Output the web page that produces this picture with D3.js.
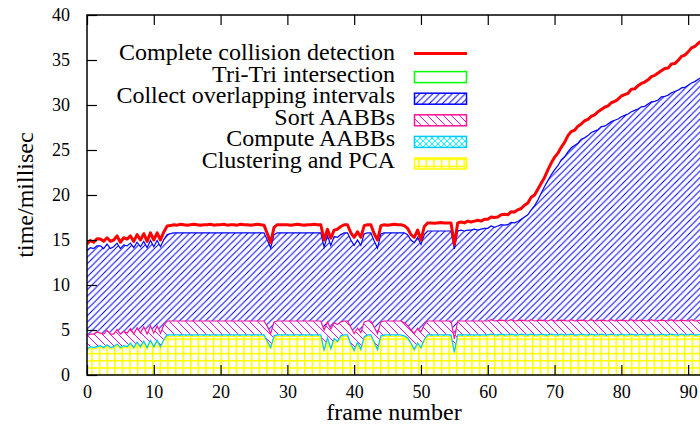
<!DOCTYPE html>
<html>
<head>
<meta charset="utf-8">
<script src="https://cdn.jsdelivr.net/npm/d3@7"></script>
<style>
body{margin:0;background:#fff}
svg{display:block;font-family:"Liberation Serif","Times New Roman",serif}
</style>
</head>
<body>
<svg id="chart" width="700" height="430"></svg>
<script>
// frame numbers, sampled every half frame
const frames = d3.range(0, 92.5, 0.5);

// time per stage (ms)
const clustering = [
  2.7,3.0,2.9,3.0,3.1,2.9,3.2,2.9,3.0,3.3, 2.9,3.1,3.0,3.4,2.9,3.5,3.0,3.6,2.9,3.7,
  3.0,3.7,3.0,3.8,4.3,4.3,4.3,4.3,4.3,4.3, 4.3,4.3,4.3,4.3,4.3,4.3,4.3,4.3,4.3,4.3,
  4.3,4.3,4.3,4.3,4.3,4.3,4.3,4.3,4.3,4.3, 4.3,4.3,4.3,4.3,3.6,2.9,4.2,4.3,4.3,4.3,
  4.3,4.3,4.3,4.3,4.3,4.3,4.3,4.3,4.3,4.3, 4.3,2.6,4.0,2.8,3.9,3.6,4.2,4.3,4.3,3.3,
  2.6,3.5,2.7,4.1,4.3,4.3,3.5,2.7,4.2,4.3, 4.3,4.3,4.3,4.3,4.3,4.2,4.0,3.4,2.7,3.4,
  2.9,3.8,4.3,4.3,4.3,4.3,4.3,4.3,4.3,4.3, 2.4,4.3,4.3,4.3,4.3,4.3,4.3,4.3,4.3,4.3,
  4.3,4.4,4.3,4.3,4.4,4.3,4.3,4.4,4.3,4.3, 4.4,4.3,4.3,4.4,4.3,4.3,4.4,4.3,4.3,4.4,
  4.3,4.3,4.4,4.3,4.3,4.4,4.3,4.3,4.4,4.3, 4.3,4.4,4.3,4.3,4.4,4.3,4.3,4.4,4.3,4.3,
  4.4,4.3,4.3,4.4,4.3,4.3,4.4,4.3,4.3,4.4, 4.3,4.3,4.4,4.3,4.3,4.4,4.3,4.3,4.4,4.3,
  4.3,4.4,4.3,4.3,4.4
];
const computeAabbs = [
  0.15,0.15,0.15,0.15,0.15,0.15,0.15,0.15,0.15,0.15, 0.15,0.15,0.15,0.15,0.15,0.15,0.15,0.15,0.15,0.15,
  0.15,0.15,0.15,0.15,0.15,0.15,0.15,0.15,0.15,0.15, 0.15,0.15,0.15,0.15,0.15,0.15,0.15,0.15,0.15,0.15,
  0.15,0.15,0.15,0.15,0.15,0.15,0.15,0.15,0.15,0.15, 0.15,0.15,0.15,0.15,0.15,0.15,0.15,0.15,0.15,0.15,
  0.15,0.15,0.15,0.15,0.15,0.15,0.15,0.15,0.15,0.15, 0.15,0.15,0.15,0.15,0.15,0.15,0.15,0.15,0.15,0.15,
  0.15,0.15,0.15,0.15,0.15,0.15,0.15,0.15,0.15,0.15, 0.15,0.15,0.15,0.15,0.15,0.15,0.15,0.15,0.15,0.15,
  0.15,0.15,0.15,0.15,0.15,0.15,0.15,0.15,0.15,0.15, 0.15,0.15,0.15,0.15,0.15,0.15,0.15,0.15,0.15,0.15,
  0.15,0.15,0.15,0.15,0.15,0.15,0.15,0.15,0.15,0.15, 0.15,0.15,0.15,0.15,0.15,0.15,0.15,0.15,0.15,0.15,
  0.15,0.15,0.15,0.15,0.15,0.15,0.15,0.15,0.15,0.15, 0.15,0.15,0.15,0.15,0.15,0.15,0.15,0.15,0.15,0.15,
  0.15,0.15,0.15,0.15,0.15,0.15,0.15,0.15,0.15,0.15, 0.15,0.15,0.15,0.15,0.15,0.15,0.15,0.15,0.15,0.15,
  0.15,0.15,0.15,0.15,0.15
];
const sortAabbs = [
  1.5,1.4,1.5,1.6,1.4,1.5,1.6,1.5,1.4,1.6, 1.5,1.6,1.5,1.6,1.5,1.6,1.5,1.6,1.5,1.6,
  1.5,1.6,1.5,1.6,1.55,1.55,1.55,1.55,1.55,1.55, 1.55,1.55,1.55,1.55,1.55,1.55,1.55,1.55,1.55,1.55,
  1.55,1.55,1.55,1.55,1.55,1.55,1.55,1.55,1.55,1.55, 1.55,1.55,1.55,1.55,1.65,1.55,1.55,1.55,1.55,1.55,
  1.55,1.55,1.55,1.55,1.55,1.55,1.55,1.55,1.55,1.55, 1.55,2.25,1.75,2.15,1.75,1.85,1.55,1.55,1.55,1.85,
  1.85,1.55,1.85,1.65,1.55,1.55,1.65,1.75,1.55,1.55, 1.55,1.55,1.55,1.55,1.55,1.45,1.35,1.45,1.75,1.65,
  1.75,1.65,1.55,1.55,1.55,1.55,1.55,1.55,1.55,1.55, 1.45,1.55,1.55,1.55,1.55,1.55,1.55,1.55,1.55,1.55,
  1.55,1.6,1.55,1.6,1.55,1.6,1.55,1.6,1.55,1.6, 1.55,1.6,1.55,1.6,1.55,1.6,1.55,1.6,1.55,1.6,
  1.55,1.6,1.55,1.6,1.55,1.6,1.55,1.6,1.55,1.6, 1.55,1.6,1.55,1.6,1.55,1.6,1.55,1.6,1.55,1.6,
  1.55,1.6,1.55,1.6,1.55,1.6,1.55,1.6,1.55,1.6, 1.55,1.6,1.55,1.6,1.55,1.6,1.55,1.6,1.55,1.6,
  1.55,1.6,1.55,1.6,1.55
];
const collectIntervals = [
  9.5,9.6,9.5,9.6,9.7,9.5,9.6,9.5,9.7,9.6, 9.5,9.6,9.7,9.5,9.6,9.5,9.6,9.5,9.6,9.5,
  9.6,9.5,9.6,9.5,9.6,9.7,9.8,9.8,9.8,9.8, 9.8,9.8,9.8,9.8,9.8,9.8,9.8,9.8,9.8,9.8,
  9.8,9.8,9.8,9.8,9.8,9.8,9.8,9.8,9.8,9.8, 9.8,9.8,9.8,9.8,9.6,9.5,9.7,9.8,9.8,9.8,
  9.8,9.8,9.8,9.8,9.8,9.8,9.8,9.8,9.8,9.8, 9.8,9.2,9.6,9.3,9.6,9.7,9.7,9.8,9.8,9.7,
  9.8,9.8,9.7,9.8,9.8,9.8,9.6,9.5,9.8,9.8, 9.8,9.8,9.8,9.8,9.8,10.0,10.1,10.0,10.1,10.1,
  9.7,10.0,10.0,10.0,10.0,10.0,10.0,10.0,10.0,10.0, 10.0,10.0,10.1,10.0,10.1,10.1,10.2,10.1,10.2,10.3,
  10.3,10.4,10.4,10.5,10.6,10.6,10.7,10.8,10.9,11.0, 11.2,11.5,11.8,12.2,12.8,13.4,14.1,14.9,15.6,16.1,
  16.8,17.2,17.8,18.2,18.8,19.1,19.5,19.7,20.1,20.3, 20.6,20.8,21.1,21.2,21.5,21.6,21.9,22.0,22.3,22.4,
  22.6,22.8,23.0,23.1,23.4,23.5,23.7,23.8,24.1,24.2, 24.4,24.5,24.8,24.9,25.1,25.2,25.5,25.6,25.8,25.9,
  26.2,26.3,26.6,26.8,27.0
];
const triTri = [
  0.7,0.8,0.7,0.8,0.75,0.8,0.7,0.8,0.75,0.8, 0.7,0.8,0.75,0.8,0.7,0.85,0.75,0.85,0.7,0.85,
  0.75,0.85,0.75,0.85,0.95,0.9,0.9,0.85,0.95,0.9, 0.85,0.9,0.95,0.9,0.85,0.9,0.9,0.95,0.85,0.9,
  0.9,0.95,0.85,0.9,0.9,0.85,0.95,0.9,0.9,0.85, 0.9,0.95,0.9,0.85,0.7,0.6,0.8,0.9,0.9,0.9,
  0.9,0.85,0.9,0.95,0.9,0.85,0.9,0.9,0.95,0.9, 0.9,0.8,0.7,0.8,0.7,0.9,0.9,0.9,0.9,0.8,
  0.9,0.9,0.9,0.9,0.9,0.9,0.8,0.9,0.9,0.9, 0.85,0.9,0.95,0.9,0.9,0.8,0.7,0.6,0.6,0.8,
  0.5,0.9,0.9,0.9,0.85,0.9,0.95,0.9,0.9,0.9, 0.5,0.9,0.9,0.9,1.0,0.9,0.9,1.1,0.9,1.0,
  1.0,1.0,1.1,1.0,1.1,1.2,1.1,1.2,1.2,1.3, 1.2,1.3,1.3,1.4,1.2,1.2,1.1,1.0,1.2,1.3,
  1.4,1.4,1.4,1.6,1.8,1.8,1.7,1.9,1.7,1.9, 1.8,1.8,1.8,2.0,1.9,2.1,2.0,2.1,2.1,2.2,
  2.3,2.3,2.3,2.5,2.4,2.6,2.6,2.7,2.7,2.8, 2.9,3.0,2.9,3.1,3.0,3.2,3.1,3.3,3.5,3.6,
  3.7,3.9,3.9,4.0,4.0
];

const xTicks = [0, 10, 20, 30, 40, 50, 60, 70, 80, 90];
const yTicks = [0, 5, 10, 15, 20, 25, 30, 35, 40];
const legendLabels = ["Complete collision detection", "Tri-Tri intersection",
  "Collect overlapping intervals", "Sort AABBs", "Compute AABBs", "Clustering and PCA"];

const keys = ["clustering", "computeAabbs", "sortAabbs", "collectIntervals", "triTri"];
const borders = {clustering:"#ffff00", computeAabbs:"#00c8ff", sortAabbs:"#ff1493", collectIntervals:"#0000ff", triTri:"#00ff00"};

const table = frames.map((f, i) => ({
  frame: f,
  clustering: clustering[i],
  computeAabbs: computeAabbs[i],
  sortAabbs: sortAabbs[i],
  collectIntervals: collectIntervals[i],
  triTri: triTri[i]
}));

const svg = d3.select("#chart");
const plotL = 87, plotR = 701.5, plotT = 15, plotB = 375;
const x = d3.scaleLinear().domain([0, 92]).range([plotL, plotR]);
const y = d3.scaleLinear().domain([0, 40]).range([plotB, plotT]);

svg.append("rect").attr("width", 700).attr("height", 430).attr("fill", "#fff");

// fill patterns
const defs = svg.append("defs");
function pat(id, w, h, color, d, sw) {
  const p = defs.append("pattern").attr("id", id).attr("patternUnits", "userSpaceOnUse")
    .attr("width", w).attr("height", h);
  p.append("path").attr("d", d).attr("stroke", color).attr("stroke-width", sw).attr("fill", "none");
}
pat("p-yellow", 7.6, 7.2, "#ffff00", "M0.75,0V7.2M0,0.75H7.6", 1.5);
pat("p-cyan", 6, 6, "#00ffff", "M0,6L6,0M-1,1L1,-1M5,7L7,5M0,0L6,6M-1,5L1,7M5,-1L7,1", 1);
pat("p-magenta", 8, 8, "#ff00ff", "M0,0L8,8M-1,7L1,9M7,-1L9,1", 1);
pat("p-blue", 6.5, 6.5, "#0000ff", "M0,6.5L6.5,0M-1,1L1,-1M5.5,7.5L7.5,5.5", 1);
const fills = {clustering:"url(#p-yellow)", computeAabbs:"url(#p-cyan)", sortAabbs:"url(#p-magenta)", collectIntervals:"url(#p-blue)", triTri:"none"};

const clip = defs.append("clipPath").attr("id", "plot");
clip.append("rect").attr("x", plotL).attr("y", plotT).attr("width", plotR - plotL).attr("height", plotB - plotT);

const layers = d3.stack().keys(keys)(table);
const area = d3.area().x(d => x(d.data.frame)).y0(d => y(d[0])).y1(d => y(d[1]));
const topLine = d3.line().x(d => x(d.data.frame)).y(d => y(d[1]));

const g = svg.append("g").attr("clip-path", "url(#plot)");
g.selectAll("path.area").data(layers).join("path").attr("class", "area")
  .attr("d", area).attr("fill", d => fills[d.key]).attr("stroke", "none");
g.selectAll("path.edge").data(layers).join("path").attr("class", "edge")
  .attr("d", topLine).attr("fill", "none").attr("stroke", d => borders[d.key]).attr("stroke-width", 1.2);
// total
g.append("path").datum(layers[layers.length - 1]).attr("d", topLine)
  .attr("fill", "none").attr("stroke", "#ff0000").attr("stroke-width", 3).attr("stroke-linejoin", "round");

// frame and ticks
function style(sel) {
  sel.select(".domain").remove();
  sel.selectAll(".tick line").attr("stroke", "#000").attr("stroke-width", 1.2);
  sel.selectAll(".tick text").attr("fill", "#000").style("font-size", "18px")
    .style("font-family", '"Liberation Serif", serif');
}
svg.append("g").attr("transform", `translate(${plotL},0)`)
  .call(d3.axisLeft(y).tickValues(yTicks).tickSize(-10).tickPadding(17)).call(style);
svg.append("g").attr("transform", `translate(0,${plotB})`)
  .call(d3.axisBottom(x).tickValues(xTicks).tickSize(-10).tickPadding(10)).call(style);
svg.append("g").attr("transform", `translate(0,${plotT})`)
  .call(d3.axisTop(x).tickValues(xTicks).tickSize(-10).tickFormat("")).call(style);
svg.append("rect").attr("x", plotL).attr("y", plotT).attr("width", plotR - plotL).attr("height", plotB - plotT)
  .attr("fill", "none").attr("stroke", "#000").attr("stroke-width", 1.5);

svg.append("text").attr("transform", `translate(33,195) rotate(-90)`).attr("text-anchor", "middle")
  .style("font-size", "24px").text("time/millisec");
svg.append("text").attr("x", 394).attr("y", 420).attr("text-anchor", "middle")
  .style("font-size", "24px").text("frame number");

// legend
const legendKeys = [null, "triTri", "collectIntervals", "sortAabbs", "computeAabbs", "clustering"];
const lg = svg.append("g");
legendLabels.forEach((label, i) => {
  const base = 60 + i * 21.6;
  lg.append("text").attr("x", 395).attr("y", base).attr("text-anchor", "end")
    .style("font-size", "24px").text(label);
  const k = legendKeys[i];
  if (k === null) {
    lg.append("line").attr("x1", 414).attr("x2", 467).attr("y1", base - 6.5).attr("y2", base - 6.5)
      .attr("stroke", "#ff0000").attr("stroke-width", 3);
  } else {
    lg.append("rect").attr("x", 414.5).attr("y", base - 10).attr("width", 52).attr("height", 11)
      .attr("fill", k === "triTri" ? "#fff" : fills[k]).attr("stroke", borders[k]).attr("stroke-width", 1.5);
  }
});
</script>
</body>
</html>
